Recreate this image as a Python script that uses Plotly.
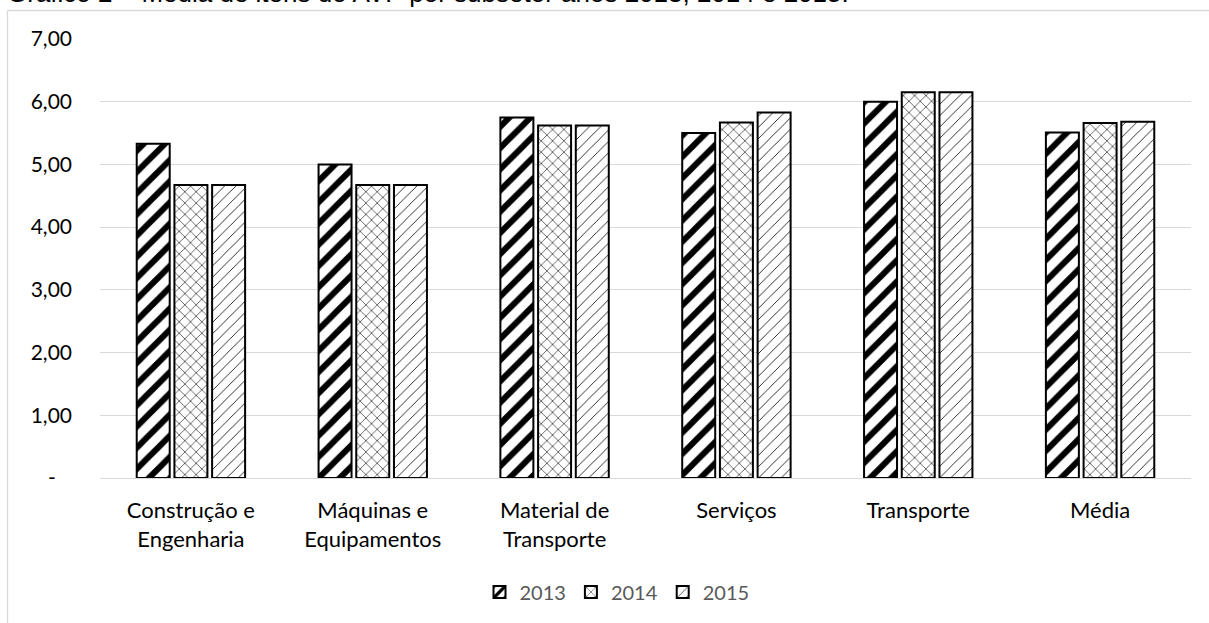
import plotly.graph_objects as go

# Subsetores e médias de itens por ano
categorias = [
    "Construção e<br>Engenharia",
    "Máquinas e<br>Equipamentos",
    "Material de<br>Transporte",
    "Serviços",
    "Transporte",
    "Média",
]
anos = ["2013", "2014", "2015"]
media_2013 = [5.33, 5.00, 5.75, 5.50, 6.00, 5.51]
media_2014 = [4.67, 4.67, 5.62, 5.67, 6.15, 5.66]
media_2015 = [4.67, 4.67, 5.62, 5.83, 6.15, 5.68]

y_ticks = [0, 1, 2, 3, 4, 5, 6, 7]
y_tick_labels = ["-\u00a0\u00a0\u00a0", "1,00", "2,00", "3,00", "4,00", "5,00", "6,00", "7,00"]

titulo = "Gráfico 2 – Média de itens do AVP por subsetor anos 2013, 2014 e 2015."

W, H = 1209, 623
ML, MR, MT, MB = 100, 18, 39, 145
PW, PH = W - ML - MR, H - MT - MB


def px_x(x):
    return (x - ML) / PW


def px_y(y):
    return (H - MB - y) / PH


padroes = [
    dict(shape="/", size=15, solidity=0.4),
    dict(shape="x", size=8, solidity=0.14),
    dict(shape="/", size=8, solidity=0.1),
]
series = [media_2013, media_2014, media_2015]

fig = go.Figure()
for ano, valores, pad in zip(anos, series, padroes):
    fig.add_trace(go.Bar(
        name=ano,
        x=categorias,
        y=valores,
        marker=dict(
            color="white",
            line=dict(color="black", width=2),
            pattern=dict(fgcolor="black", bgcolor="white", fgopacity=1,
                         fillmode="replace", **pad),
        ),
    ))

fonte = "Lato, Open Sans, sans-serif"

fig.update_layout(
    width=W,
    height=H,
    margin=dict(l=ML, r=MR, t=MT, b=MB),
    paper_bgcolor="white",
    plot_bgcolor="white",
    barmode="group",
    bargap=0.378,
    bargroupgap=0.125,
    font=dict(family=fonte, size=20, color="#000000"),
    xaxis=dict(
        showgrid=False,
        showline=False,
        ticks="",
        tickfont=dict(family=fonte, size=22, color="#000000"),
        ticklabelstandoff=17,
    ),
    yaxis=dict(
        range=[0, 7],
        tickvals=y_ticks,
        ticktext=y_tick_labels,
        showgrid=True,
        gridcolor="#d9d9d9",
        gridwidth=1.3,
        zeroline=True,
        zerolinecolor="#d9d9d9",
        zerolinewidth=1.3,
        showline=False,
        ticks="",
        tickfont=dict(family=fonte, size=21, color="#000000"),
        ticklabelstandoff=27,
    ),
    legend=dict(
        orientation="h",
        x=px_x(617),
        xanchor="center",
        y=px_y(592),
        yanchor="middle",
        font=dict(family=fonte, size=20, color="#595959"),
        itemwidth=30,
        bgcolor="rgba(0,0,0,0)",
    ),
    showlegend=True,
)

# Moldura da área do gráfico (bordas superior e esquerda)
moldura = dict(color="#d9d9d9", width=1.3)
fig.add_shape(type="line", xref="paper", yref="paper",
              x0=px_x(7.5), x1=px_x(W), y0=px_y(10.5), y1=px_y(10.5),
              line=moldura, layer="below")
fig.add_shape(type="line", xref="paper", yref="paper",
              x0=px_x(7.5), x1=px_x(7.5), y0=px_y(10.5), y1=px_y(H),
              line=moldura, layer="below")

# Título
fig.add_annotation(
    text=titulo,
    xref="paper", yref="paper",
    x=px_x(5), xanchor="left",
    y=px_y(10), yanchor="bottom",
    showarrow=False,
    font=dict(family="Liberation Sans, Arial, sans-serif", size=26, color="#000000"),
)

fig.write_html("out.html")
